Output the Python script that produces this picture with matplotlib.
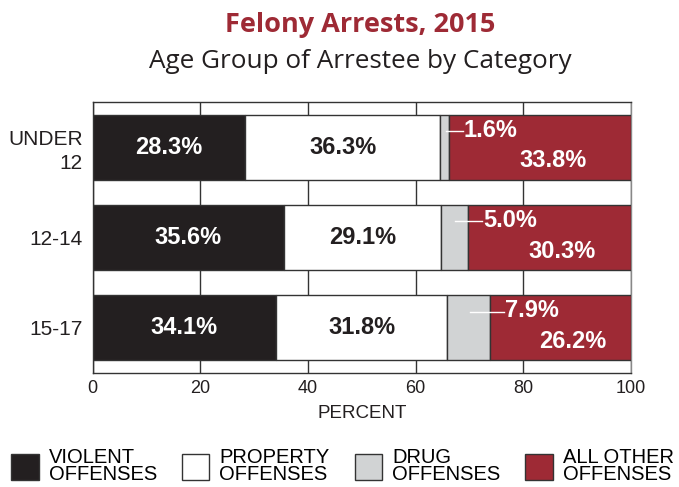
import matplotlib.pyplot as plt
from matplotlib.patches import Patch

# data
groups = ['UNDER\n12', '12-14', '15-17']
violent = [28.3, 35.6, 34.1]
property_ = [36.3, 29.1, 31.8]
drug = [1.6, 5.0, 7.9]
other = [33.8, 30.3, 26.2]

categories = ['VIOLENT\nOFFENSES', 'PROPERTY\nOFFENSES', 'DRUG\nOFFENSES', 'ALL OTHER\nOFFENSES']
colors = ['#231f20', '#ffffff', '#d1d3d4', '#9e2a35']
EDGE = '#333333'
INK = '#231f20'

plt.rcParams['font.family'] = ['Liberation Sans', 'DejaVu Sans']

fig = plt.figure(figsize=(6.79, 4.87), dpi=100)
ax = fig.add_axes([0.1365, 0.234, 0.7925, 0.556])

y = list(range(len(groups)))
series = [violent, property_, drug, other]
left = [0.0] * len(groups)
for vals, col in zip(series, colors):
    ax.barh(y, vals, left=left, height=0.72, color=col, edgecolor=EDGE,
            linewidth=1.0, zorder=3)
    left = [l + v for l, v in zip(left, vals)]

# segment labels
LBL = 17
for i in y:
    v, p, d, o = violent[i], property_[i], drug[i], other[i]
    ax.text(v / 2, i, f'{v:.1f}%', color='white', fontsize=LBL,
            fontweight='bold', ha='center', va='center', zorder=5)
    ax.text(v + p / 2, i, f'{p:.1f}%', color=INK, fontsize=LBL,
            fontweight='bold', ha='center', va='center', zorder=5)
    dend = v + p + d
    ax.plot([v + p + d / 2 + 0.2, dend + 2.6], [i - 0.18, i - 0.18],
            color='white', linewidth=1.0, zorder=5)
    ax.text(dend + 2.8, i - 0.19, f'{d:.1f}%', color='white', fontsize=LBL,
            fontweight='bold', ha='left', va='center', zorder=5)
    ax.text(dend + o / 2 + 2.4, i + 0.15, f'{o:.1f}%', color='white',
            fontsize=LBL, fontweight='bold', ha='center', va='center', zorder=5)

ax.set_xlim(0, 100)
ax.set_ylim(2.5, -0.5)
ax.set_xticks([0, 20, 40, 60, 80, 100])
ax.set_yticks(y)
ax.set_yticklabels(groups, fontsize=15)
for t in ax.get_yticklabels():
    t.set_multialignment('right')
    t.set_linespacing(1.3)
ax.tick_params(axis='both', length=0, colors=INK)
ax.tick_params(axis='x', labelsize=13, pad=5)
ax.tick_params(axis='y', pad=7)
ax.xaxis.grid(True, color=EDGE, linewidth=1.0, zorder=0)
ax.set_axisbelow(True)
for s in ax.spines.values():
    s.set_color(EDGE)
    s.set_linewidth(1.0)
ax.spines['right'].set_color('#888888')
ax.set_xlabel('PERCENT', fontsize=13.5, color=INK, labelpad=6)

fig.text(0.530, 0.934, 'Felony Arrests, 2015', ha='center', va='baseline',
         fontsize=19.5, fontweight='bold', color='#9e2a35', family='Open Sans')
fig.text(0.530, 0.860, 'Age Group of Arrestee by Category', ha='center',
         va='baseline', fontsize=18.8, color=INK, family='Open Sans')

handles = [Patch(facecolor=c, edgecolor=EDGE, linewidth=1.0) for c in colors]
leg = fig.legend(handles, categories, loc='lower left',
                 bbox_to_anchor=(-0.004, -0.022), ncol=4, frameon=False,
                 handlelength=1.35, handleheight=1.6, handletextpad=0.5,
                 columnspacing=1.25, borderpad=0.2,
                 prop={'family': ['Liberation Sans'], 'size': 14.5})
for t in leg.get_texts():
    t.set_linespacing(0.85)

fig.savefig('out.png', dpi=100)
